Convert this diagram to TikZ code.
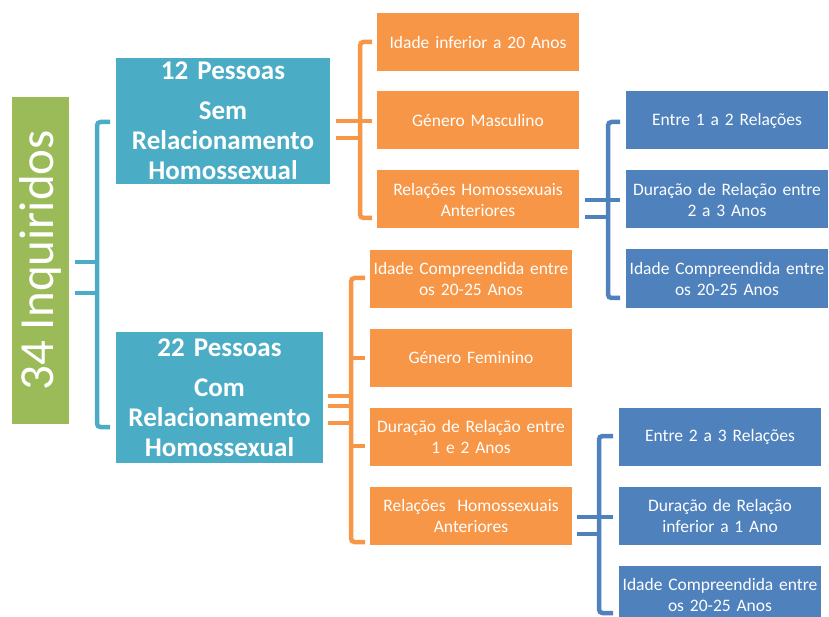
\documentclass[tikz,border=0pt]{standalone}
\usepackage{fontspec}
\setmainfont{Carlito}
\usetikzlibrary{calc}
\definecolor{cgreen}{RGB}{155,187,89}
\definecolor{cteal}{RGB}{75,172,198}
\definecolor{corange}{RGB}{247,150,70}
\definecolor{cblue}{RGB}{79,129,189}
\begin{document}
\begin{tikzpicture}[x=1pt,y=-1pt,
  box/.style={fill=#1, text=white, inner sep=0pt, align=center},
  leaf/.style={box=#1, minimum width=202pt, minimum height=58pt, text width=202pt,
    font=\fontsize{17.5}{21}\selectfont},
  mid/.style={box=cteal, minimum height=#1, font=\bfseries\fontsize{27}{30}\selectfont},
  brk/.style={draw=#1, line width=4.5pt, rounded corners=3.5pt}]
\useasboundingbox (0,0) rectangle (829,617);

% root
\node[box=cgreen, rotate=90, minimum width=327pt, minimum height=57pt,
  font=\fontsize{49}{50}\selectfont] (root) at (40.5,260.5) {34 Inquiridos};

% second level
\node[mid=126pt, minimum width=214pt, text width=214pt] (sem) at (223,121)
  {12 Pessoas\\[10pt]Sem\\Relacionamento\\Homossexual};
\node[mid=131pt, minimum width=207pt, text width=207pt] (com) at (219.5,397.5)
  {22 Pessoas\\[10pt]Com\\Relacionamento\\Homossexual};

% third level, branch 1
\node[leaf=corange] (a1) at (478,42) {Idade inferior a 20 Anos};
\node[leaf=corange] (a2) at (478,120.5) {Género Masculino};
\node[leaf=corange] (a3) at (478,199.5) {Relações Homossexuais\\Anteriores};

% fourth level, branch 1
\node[leaf=cblue] (b1) at (727,120.5) {Entre 1 a 2 Relações};
\node[leaf=cblue] (b2) at (727,199.5) {Duração de Relação entre\\2 a 3 Anos};
\node[leaf=cblue] (b3) at (727,278.5) {Idade Compreendida entre\\os 20-25 Anos};

% third level, branch 2
\node[leaf=corange] (c1) at (471,279) {Idade Compreendida entre\\os 20-25 Anos};
\node[leaf=corange] (c2) at (471,358) {Género Feminino};
\node[leaf=corange] (c3) at (471,437) {Duração de Relação entre\\1 e 2 Anos};
\node[leaf=corange] (c4) at (471,516) {Relações\ \ Homossexuais\\Anteriores};

% fourth level, branch 2
\node[leaf=cblue] (d1) at (720,437) {Entre 2 a 3 Relações};
\node[leaf=cblue] (d2) at (720,516) {Duração de Relação\\inferior a 1 Ano};
\node[leaf=cblue, minimum height=58pt] (d3) at (720,595) {Idade Compreendida entre\\os 20-25 Anos};

% teal bracket (root -> sem, com)
\coordinate (r1) at (75,262); \coordinate (r2) at (75,293);
\draw[brk=cteal] (110,122) -- (97,122) -- (97,427) -- (110,427);
\draw[brk=cteal] (r1) -- (97,262);
\draw[brk=cteal] (r2) -- (97,293);

% orange bracket 1 (sem -> a1..a3)
\coordinate (s1) at (336,121); \coordinate (s2) at (336,138);
\draw[brk=corange] (372,42) -- (360,42) -- (360,218) -- (372,218);
\draw[brk=corange] (s1) -- (372,121);
\draw[brk=corange] (s2) -- (360,138);

% blue bracket 1 (a3 -> b1..b3)
\coordinate (t1) at (585,200); \coordinate (t2) at (585,217);
\draw[brk=cblue] (620,122) -- (608,122) -- (608,298) -- (620,298);
\draw[brk=cblue] (t1) -- (620,200);
\draw[brk=cblue] (t2) -- (608,217);

% orange bracket 2 (com -> c1..c4)
\coordinate (u1) at (328,396); \coordinate (u2) at (328,406); \coordinate (u3) at (328,423);
\draw[brk=corange] (365,278) -- (351,278) -- (351,542) -- (365,542);
\draw[brk=corange] (351,358) -- (365,358);
\draw[brk=corange] (351,446) -- (365,446);
\draw[brk=corange] (u1) -- (351,396);
\draw[brk=corange] (u2) -- (351,406);
\draw[brk=corange] (u3) -- (351,423);

% blue bracket 2 (c4 -> d1..d3)
\coordinate (v1) at (577,517); \coordinate (v2) at (577,534);
\draw[brk=cblue] (613,436) -- (599,436) -- (599,613) -- (613,613);
\draw[brk=cblue] (v1) -- (613,517);
\draw[brk=cblue] (v2) -- (599,534);
\end{tikzpicture}
\end{document}
